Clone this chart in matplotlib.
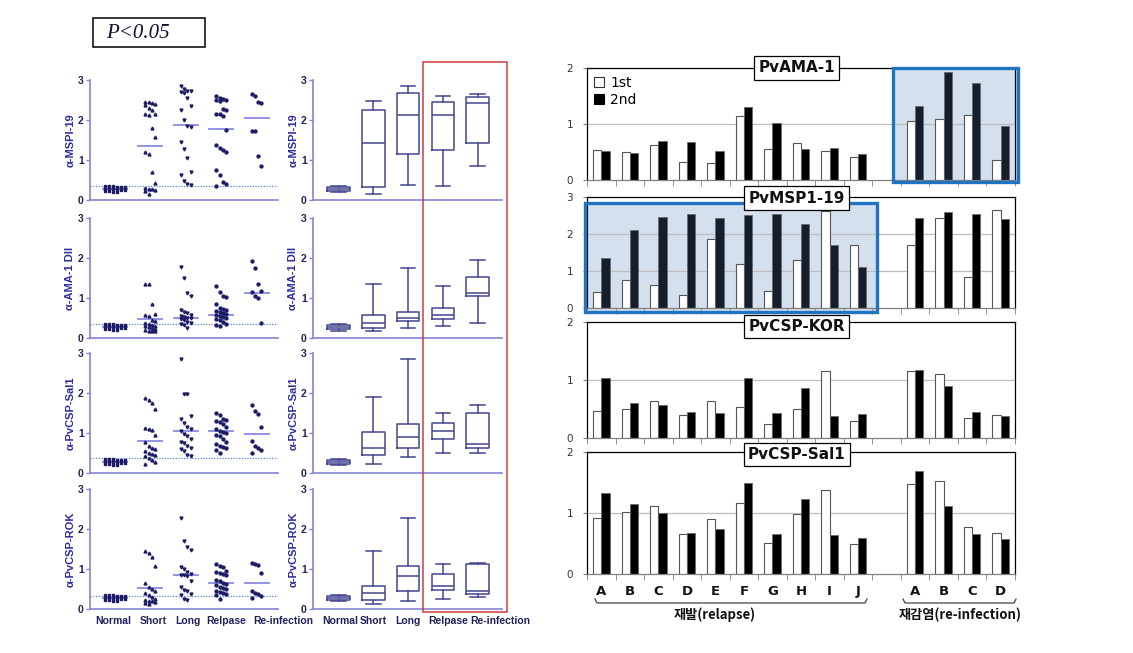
import matplotlib
matplotlib.use("Agg")
import matplotlib.pyplot as plt
import numpy as np
from matplotlib.patches import Rectangle
from matplotlib.lines import Line2D

# ---------------- data: left scatter panels ----------------
groups = ["Normal", "Short", "Long", "Relpase", "Re-infection"]
left_labels = ["α-MSPI-19", "α-AMA-1 DII", "α-PvCSP-Sal1", "α-PvCSP-ROK"]

normal_vals = [0.36, 0.35, 0.34, 0.33, 0.33, 0.32, 0.32, 0.31, 0.30, 0.30, 0.29,
               0.29, 0.28, 0.28, 0.27, 0.26, 0.25, 0.24, 0.23, 0.22, 0.21, 0.19]

msp_short = [2.45, 2.45, 2.42, 2.40, 2.38, 2.30, 2.25, 2.15, 2.15, 2.12, 1.80, 1.58,
             1.20, 1.15, 0.70, 0.42, 0.30, 0.28, 0.28, 0.25, 0.22, 0.14]
msp_long = [2.85, 2.78, 2.72, 2.70, 2.72, 2.68, 2.55, 2.35, 2.25, 2.00, 1.85, 1.82,
            1.45, 1.28, 1.05, 0.70, 0.62, 0.48, 0.40, 0.38]
msp_relapse = [2.60, 2.55, 2.52, 2.50, 2.48, 2.50, 2.28, 2.25, 2.15, 2.15, 2.10, 1.75,
               1.38, 1.30, 1.25, 1.20, 0.75, 0.62, 0.45, 0.40, 0.35]
msp_reinf = [2.65, 2.60, 2.45, 2.42, 1.72, 1.72, 1.10, 0.85]

ama_short = [1.35, 1.35, 0.85, 0.60, 0.58, 0.55, 0.45, 0.42, 0.38, 0.35, 0.32, 0.30,
             0.30, 0.28, 0.25, 0.22, 0.20, 0.18, 0.18, 0.18]
ama_long = [1.77, 1.50, 1.13, 1.05, 0.70, 0.65, 0.62, 0.58, 0.55, 0.52, 0.50, 0.50,
            0.48, 0.45, 0.40, 0.38, 0.35, 0.32, 0.25]
ama_relapse = [1.30, 1.15, 1.05, 1.03, 0.85, 0.75, 0.72, 0.70, 0.68, 0.65, 0.62, 0.60,
               0.58, 0.55, 0.52, 0.50, 0.48, 0.45, 0.40, 0.35, 0.32, 0.30]
ama_reinf = [1.93, 1.75, 1.35, 1.17, 1.15, 1.05, 1.00, 0.37]

sal_short = [1.88, 1.82, 1.75, 1.60, 1.12, 1.10, 1.08, 0.95, 0.78, 0.68, 0.62, 0.60,
             0.55, 0.50, 0.48, 0.45, 0.42, 0.38, 0.32, 0.28, 0.22]
sal_long = [2.85, 1.98, 1.98, 1.42, 1.35, 1.25, 1.15, 1.10, 1.05, 0.98, 0.92, 0.85,
            0.78, 0.75, 0.68, 0.62, 0.60, 0.55, 0.45, 0.42]
sal_relapse = [1.50, 1.45, 1.35, 1.32, 1.30, 1.28, 1.22, 1.15, 1.10, 1.05, 1.02, 1.00,
               0.95, 0.92, 0.85, 0.78, 0.72, 0.68, 0.65, 0.62, 0.58, 0.50]
sal_reinf = [1.70, 1.55, 1.48, 1.15, 0.80, 0.68, 0.62, 0.58, 0.50]

rok_short = [1.45, 1.40, 1.30, 1.08, 0.65, 0.55, 0.50, 0.45, 0.40, 0.35, 0.30, 0.25,
             0.22, 0.20, 0.20, 0.18, 0.15, 0.12]
rok_long = [2.28, 1.70, 1.55, 1.48, 1.05, 1.00, 0.92, 0.88, 0.85, 0.85, 0.82, 0.70,
            0.55, 0.48, 0.45, 0.38, 0.35, 0.25, 0.22]
rok_relapse = [1.12, 1.08, 1.05, 0.95, 0.92, 0.90, 0.88, 0.85, 0.72, 0.70, 0.65, 0.62,
               0.60, 0.55, 0.52, 0.50, 0.45, 0.42, 0.40, 0.38, 0.35, 0.25]
rok_reinf = [1.15, 1.12, 1.10, 0.90, 0.45, 0.40, 0.38, 0.32, 0.28]

scatter_data = [
    [normal_vals, msp_short, msp_long, msp_relapse, msp_reinf],
    [normal_vals, ama_short, ama_long, ama_relapse, ama_reinf],
    [normal_vals, sal_short, sal_long, sal_relapse, sal_reinf],
    [normal_vals, rok_short, rok_long, rok_relapse, rok_reinf],
]
scatter_medians = [
    [0.28, 1.35, 1.88, 1.77, 2.05],
    [0.28, 0.47, 0.50, 0.58, 1.13],
    [0.28, 0.79, 1.05, 1.04, 0.97],
    [0.28, 0.52, 0.85, 0.66, 0.66],
]
cutoffs = [0.34, 0.34, 0.37, 0.33]

# ---------------- data: box plots (whislo, q1, med, q3, whishi) ----------------
box_msp = [[0.19, 0.23, 0.27, 0.32, 0.36], [0.14, 0.33, 1.42, 2.25, 2.47],
           [0.38, 1.16, 2.12, 2.67, 2.86], [0.36, 1.24, 2.12, 2.45, 2.60],
           [0.85, 1.42, 2.43, 2.58, 2.65]]
box_ama = [[0.18, 0.22, 0.28, 0.32, 0.36], [0.17, 0.26, 0.38, 0.57, 1.35],
           [0.25, 0.42, 0.51, 0.65, 1.76], [0.31, 0.48, 0.58, 0.75, 1.30],
           [0.37, 1.04, 1.13, 1.53, 1.94]]
box_sal = [[0.20, 0.23, 0.28, 0.32, 0.36], [0.23, 0.44, 0.63, 1.03, 1.90],
           [0.41, 0.62, 0.89, 1.23, 2.85], [0.51, 0.84, 1.05, 1.26, 1.50],
           [0.50, 0.62, 0.73, 1.50, 1.69]]
box_rok = [[0.19, 0.23, 0.28, 0.32, 0.36], [0.13, 0.23, 0.39, 0.58, 1.45],
           [0.21, 0.44, 0.82, 1.07, 2.28], [0.25, 0.47, 0.58, 0.87, 1.13],
           [0.29, 0.37, 0.44, 1.13, 1.16]]
box_data = [box_msp, box_ama, box_sal, box_rok]

# ---------------- data: right bar panels ----------------
relapse_ids = list("ABCDEFGHIJ")
reinf_ids = list("ABCD")
bar_titles = ["PvAMA-1", "PvMSP1-19", "PvCSP-KOR", "PvCSP-Sal1"]
ama_1st = [0.54, 0.50, 0.63, 0.32, 0.30, 1.14, 0.55, 0.66, 0.51, 0.41, 1.05, 1.09, 1.16, 0.36]
ama_2nd = [0.52, 0.48, 0.70, 0.67, 0.51, 1.30, 1.02, 0.55, 0.57, 0.46, 1.33, 1.93, 1.74, 0.97]
msp_1st = [0.42, 0.75, 0.63, 0.34, 1.86, 1.19, 0.45, 1.30, 2.61, 1.70, 1.70, 2.42, 0.85, 2.66]
msp_2nd = [1.35, 2.11, 2.46, 2.54, 2.44, 2.51, 2.53, 2.27, 1.71, 1.11, 2.44, 2.60, 2.54, 2.40]
kor_1st = [0.46, 0.50, 0.64, 0.39, 0.64, 0.53, 0.25, 0.50, 1.15, 0.29, 1.15, 1.10, 0.34, 0.39]
kor_2nd = [1.04, 0.61, 0.57, 0.44, 0.43, 1.04, 0.43, 0.87, 0.38, 0.41, 1.17, 0.89, 0.44, 0.38]
sal_1st = [0.92, 1.01, 1.11, 0.65, 0.90, 1.16, 0.51, 0.98, 1.37, 0.49, 1.47, 1.52, 0.77, 0.67]
sal_2nd = [1.32, 1.15, 1.00, 0.67, 0.74, 1.49, 0.65, 1.23, 0.64, 0.59, 1.69, 1.12, 0.66, 0.58]
bar_first = [ama_1st, msp_1st, kor_1st, sal_1st]
bar_second = [ama_2nd, msp_2nd, kor_2nd, sal_2nd]
bar_ymax = [2, 3, 2, 2]

# ---------------- figure ----------------
W, H = 1133, 653
fig = plt.figure(figsize=(W / 100, H / 100), dpi=100)
fig.patch.set_facecolor("white")


def add_ax(x0, yt, x1, yb):
    return fig.add_axes([x0 / W, 1 - yb / H, (x1 - x0) / W, (yb - yt) / H])


AX_COL = "#8484d4"
PT_COL = "#1b1b66"
LBL_COL = "#2c2ca0"
TICK_COL = "#20205a"
MED_COL = "#8a8ae0"
BOX_COL = "#45458e"

rows = [(80, 200), (218, 338), (353, 473), (489, 609)]
markers = ["s", "^", "v", "o", "o"]
widths = [0.28, 0.14, 0.14, 0.14, 0.12]


def style_left(ax, r):
    for side in ["top", "right"]:
        ax.spines[side].set_visible(False)
    for side in ["left", "bottom"]:
        ax.spines[side].set_color(AX_COL)
        ax.spines[side].set_linewidth(1.2)
    ax.set_yticks([0, 1, 2, 3])
    ax.tick_params(axis="y", length=3, width=1, color=AX_COL, pad=1.5,
                   labelsize=7.5, labelcolor=TICK_COL)
    for t in ax.get_yticklabels():
        t.set_fontweight("bold")
        t.set_family("Liberation Sans")
    ax.set_ylabel(left_labels[r], fontsize=8, fontweight="bold", color=LBL_COL,
                  family="Liberation Sans", labelpad=2)
    ax.set_xticks([])
    ax.patch.set_alpha(0)


for r, (yt, yb) in enumerate(rows):
    # ---- scatter panel ----
    ax = add_ax(90, yt, 278, yb)
    ax.set_xlim(-0.7, 4.6)
    ax.set_ylim(0, 3)
    for g in range(5):
        vals = np.sort(np.array(scatter_data[r][g]))[::-1]
        n = len(vals)
        k = 6 if g == 0 else 4
        offs = np.array([widths[g] * (((i % k) - (k - 1) / 2) / ((k - 1) / 2)) for i in range(n)])
        ax.plot(g + offs, vals, linestyle="none", marker=markers[g], ms=2.1,
                color=PT_COL, clip_on=False, zorder=3)
        ax.plot([g - 0.34, g + 0.34], [scatter_medians[r][g]] * 2, color=MED_COL,
                lw=1.3, zorder=2)
    ax.axhline(cutoffs[r], color="#5a86d6", lw=0.9, ls=(0, (1, 1.2)), zorder=1)
    style_left(ax, r)

    # ---- box panel ----
    bx = add_ax(313, yt, 502, yb)
    bx.set_xlim(-0.74, 4.7)
    bx.set_ylim(0, 3)
    stats = []
    for g in range(5):
        lo, q1, med, q3, hi = box_data[r][g]
        stats.append(dict(whislo=lo, q1=q1, med=med, q3=q3, whishi=hi, fliers=[], label=""))
    style = dict(color=BOX_COL, linewidth=1.1)
    bx.bxp(stats, positions=range(5), widths=0.65, capwidths=0.42, showfliers=False,
           boxprops=style, whiskerprops=style, capprops=style,
           medianprops=dict(color=BOX_COL, linewidth=1.1), manage_ticks=False)
    style_left(bx, r)

# category labels below bottom panels
scatter_lbl_x = [113, 153, 188, 226, 283]
box_lbl_x = [340, 373, 408, 448, 500]
for xs in (scatter_lbl_x, box_lbl_x):
    for g, xp in enumerate(xs):
        fig.text(xp / W, 1 - 621 / H, groups[g], ha="center", va="center", fontsize=7.5,
                 fontweight="bold", color=TICK_COL, family="Liberation Sans")

# red rectangle around Relapse / Re-infection boxes
fig.add_artist(Rectangle((423 / W, 1 - 612 / H), (507 - 423) / W, (612 - 62) / H,
                         transform=fig.transFigure, fill=False, edgecolor="#d03a3a", lw=1.1))

# P<0.05 box
fig.add_artist(Rectangle((93 / W, 1 - 47 / H), (205 - 93) / W, (47 - 18) / H,
                         transform=fig.transFigure, fill=False, edgecolor="black", lw=1.1))
fig.text(106 / W, 1 - 33 / H, "P<0.05", fontsize=15, style="italic",
         family="Liberation Serif", color="#101030", va="center", ha="left")

# ---------------- right bar panels ----------------
bar_rows = [(68, 180), (197, 308), (322, 438), (452, 574)]
xpos = np.array(list(range(10)) + list(range(11, 15)))
highlights = {0: (10.23, 14.6, -0.03, 2.0), 1: (-0.57, 9.66, -0.1, 2.84)}
title_dy = [0.0, -0.01, -0.04, -0.02]

for p, (yt, yb) in enumerate(bar_rows):
    ax = add_ax(587, yt, 1015, yb)
    ymax = bar_ymax[p]
    ax.set_xlim(-0.5, 14.5)
    ax.set_ylim(0, ymax)
    for yv in range(1, ymax):
        ax.axhline(yv, color="#bdbdbd", lw=0.9, zorder=1)
    hl = highlights.get(p)
    dark = np.zeros(len(xpos), dtype=bool)
    if hl:
        x0, x1, y0, y1 = hl
        ax.add_patch(Rectangle((x0, y0), x1 - x0, y1 - y0, facecolor="#d5e0ee",
                               edgecolor="none", zorder=0.5, clip_on=False))
        ax.add_patch(Rectangle((x0, y0), x1 - x0, y1 - y0, facecolor="none",
                               edgecolor="#1f74c2", lw=2.4, zorder=4, clip_on=False))
        dark = (xpos > x0) & (xpos < x1)
    blk = ["#141e2d" if d else "black" for d in dark]
    ax.bar(xpos - 0.145, bar_first[p], width=0.29, color="white", edgecolor="#555555",
           lw=0.8, zorder=2, label="1st")
    ax.bar(xpos + 0.145, bar_second[p], width=0.29, color=blk, edgecolor="#6a6a6a",
           lw=0.6, zorder=2, label="2nd")
    for side in ["top", "right", "left"]:
        ax.spines[side].set_color("black")
        ax.spines[side].set_linewidth(0.9)
    ax.spines["bottom"].set_color("#808080")
    ax.spines["bottom"].set_linewidth(0.9)
    ax.set_yticks(range(0, ymax + 1))
    ax.tick_params(axis="y", length=3, color="#808080", labelsize=7.5,
                   labelcolor="#333333", pad=7)
    ax.set_xticks(np.arange(-0.5, 15, 1), minor=True)
    ax.tick_params(axis="x", which="minor", length=4, color="#808080", direction="out")
    ax.set_xticks(xpos)
    if p == 3:
        ax.set_xticklabels(relapse_ids + reinf_ids, fontsize=9.5, fontweight="bold",
                           color="#111111")
        ax.tick_params(axis="x", which="major", length=0, pad=8)
    else:
        ax.set_xticklabels([])
        ax.tick_params(axis="x", which="major", length=0)
    ax.text(0.49, 1.0 + title_dy[p], bar_titles[p], transform=ax.transAxes,
            ha="center", va="center", fontsize=11, fontweight="bold", color="#111111",
            family="DejaVu Sans", zorder=6,
            bbox=dict(boxstyle="square,pad=0.28", facecolor="white", edgecolor="black", lw=0.9))
    if p == 0:
        h1 = Rectangle((0, 0), 1, 1, facecolor="white", edgecolor="#333333", lw=0.8)
        h2 = Rectangle((0, 0), 1, 1, facecolor="black", edgecolor="black", lw=0.8)
        ax.legend([h1, h2], ["1st", "2nd"], loc="upper left", bbox_to_anchor=(-0.01, 1.03),
                  frameon=False, fontsize=10, handlelength=0.75, handleheight=0.75,
                  handletextpad=0.45, labelspacing=0.2, borderaxespad=0.4)

# braces and group labels
def brace(xl, xr, y):
    xs = np.array([xl, xl + 2, xr - 2, xr]) / W
    ys = 1 - np.array([y - 4, y, y, y - 4]) / H
    fig.add_artist(Line2D(xs, ys, transform=fig.transFigure, color="#444444", lw=0.9))

brace(595, 867, 603)
brace(903, 1016, 603)
kfont = ["Noto Sans CJK KR", "DejaVu Sans"]
fig.text(715 / W, 1 - 615 / H, "재발(relapse)", ha="center", va="center", fontsize=9.5,
         fontweight="bold", family=kfont, color="#111111")
fig.text(960 / W, 1 - 615 / H, "재감염(re-infection)", ha="center", va="center",
         fontsize=9.5, fontweight="bold", family=kfont, color="#111111")

fig.savefig("out.png", dpi=100, facecolor="white")
